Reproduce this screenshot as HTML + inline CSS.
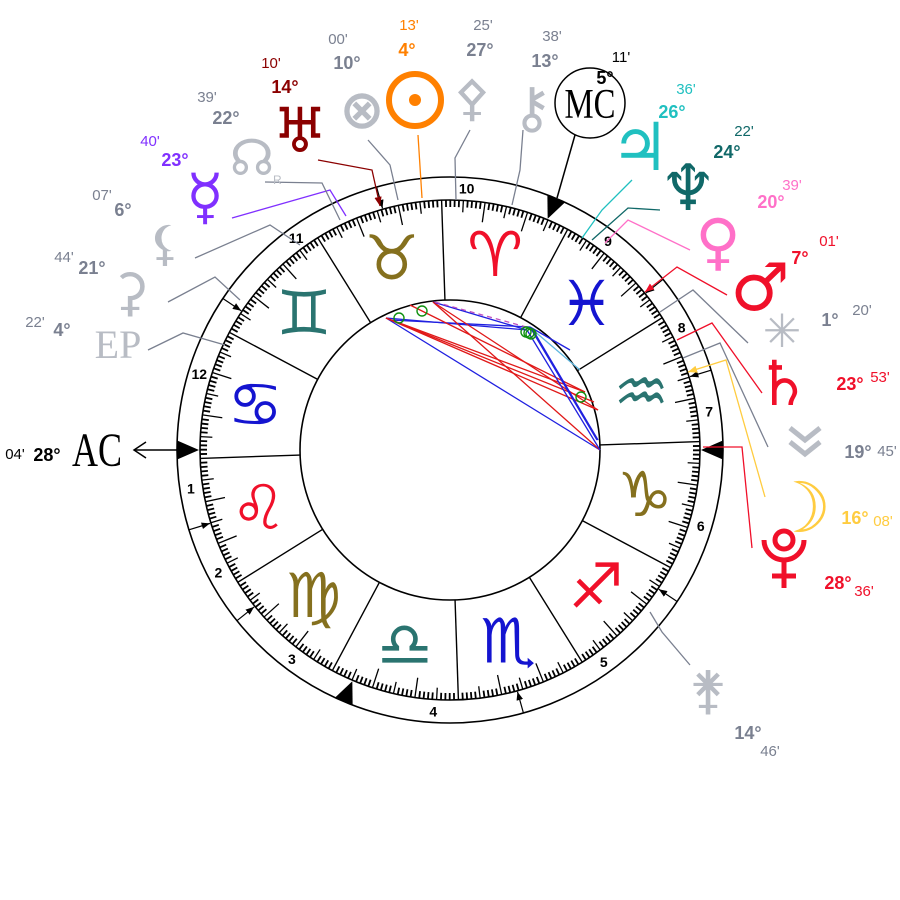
<!DOCTYPE html>
<html><head><meta charset="utf-8"><style>
body{margin:0;background:#fff;width:900px;height:900px;overflow:hidden}
svg{display:block}
</style></head><body>
<svg id="s" width="900" height="900" viewBox="0 0 900 900" xmlns="http://www.w3.org/2000/svg" font-family="DejaVu Sans, sans-serif">
<defs>
<marker id="ar" viewBox="0 0 10 10" refX="10" refY="5" markerWidth="7" markerHeight="7" orient="auto"><path d="M0,1 L10,5 L0,9 z" fill="context-stroke"/></marker>
<marker id="arb" viewBox="0 0 10 10" refX="10" refY="5" markerWidth="7" markerHeight="7" orient="auto"><path d="M0,1 L10,5 L0,9 z" fill="#000"/></marker>
</defs>
<circle cx="450" cy="450" r="273" fill="none" stroke="#000" stroke-width="1.6"/>
<circle cx="450" cy="450" r="250" fill="none" stroke="#000" stroke-width="1.6"/>
<circle cx="450" cy="450" r="150" fill="none" stroke="#000" stroke-width="1.6"/>
<g id="ticks"></g><g id="signs"></g><g id="houses"></g><g id="asp"></g><g id="pl"></g>
</svg>
<script>
var NS="http://www.w3.org/2000/svg",cx=450,cy=450,AC=118.07;
var SANS='font-family:"Liberation Sans",sans-serif',SERIF='font-family:"Liberation Serif",serif',DJ='font-family:"DejaVu Sans",sans-serif';
function th(L){return (180+L-AC)*Math.PI/180;}
function P(r,t){return [cx+r*Math.cos(t),cy-r*Math.sin(t)];}
function el(p,tag,a,txt){var e=document.createElementNS(NS,tag);for(var k in a)e.setAttribute(k,a[k]);if(txt!=null)e.textContent=txt;p.appendChild(e);return e;}
var T=document.getElementById('ticks');
for(var d=0;d<360;d++){var t=th(d);var len=d%10==0?20:(d%5==0?12:7);if(d%30==0)len=0;
 if(len){var a=P(250,t),b=P(250-len,t);el(T,'line',{x1:a[0],y1:a[1],x2:b[0],y2:b[1],stroke:'#000','stroke-width':d%5==0?1.3:1.8});}}
var S=document.getElementById('signs');
var gl=['♈','♉','♊','♋','♌','♍','♎','♏','♐','♑','♒','♓'];
var col=['#f0102a','#85701e','#2a7470','#1414d0'];
for(var i=0;i<12;i++){var t=th(i*30);var a=P(250,t),b=P(150,t);el(S,'line',{x1:a[0],y1:a[1],x2:b[0],y2:b[1],stroke:'#000','stroke-width':1.4});
 var m=P(200,th(i*30+15));el(S,'text',{x:m[0],y:m[1]+21,'font-size':62,'text-anchor':'middle',fill:col[i%4],style:DJ},gl[i]+'\uFE0E');}
var H=document.getElementById('houses');
var cusps=[180,197,218.7,247.1,285.6,326.3,0,17,38.7,67.1,105.6,146.3];
for(var i=0;i<12;i++){var t=cusps[i]*Math.PI/180;
 if(i%3==0){var b=P(251,t);var c=P(273,t+0.035),dd=P(273,t-0.035);
  el(H,'path',{d:'M'+b[0]+','+b[1]+'L'+c[0]+','+c[1]+'L'+dd[0]+','+dd[1]+'z',fill:'#000'});}
 else{var a=P(273,t),b=P(251,t);el(H,'line',{x1:a[0],y1:a[1],x2:b[0],y2:b[1],stroke:'#000','stroke-width':1.2,'marker-end':'url(#arb)'});}
 var next=cusps[(i+1)%12];var mid=cusps[i]+(((next-cusps[i])+360)%360)/2;var p=P(262,mid*Math.PI/180);
 el(H,'text',{x:p[0],y:p[1]+5,'font-size':14,'font-weight':'bold','text-anchor':'middle',style:SANS},String(i+1));}
el(H,'line',{x1:575,y1:135,x2:557,y2:198,stroke:'#000','stroke-width':1.5});
el(H,'line',{x1:134,y1:450,x2:177,y2:450,stroke:'#000','stroke-width':1.5});
el(H,'path',{d:'M146,442 L134,450 L146,458',fill:'none',stroke:'#000','stroke-width':1.5});
var A=document.getElementById('asp');
var asp=[[386,318,600,450,'#2020e0'],[386,318,527,330,'#2020e0'],[390,320,530,327,'#2020e0'],[386,318,585,392,'#e01818'],[386,318,594,402,'#e01818'],[386,318,598,410,'#e01818'],[410,305,585,392,'#e01818'],[433,302,598,410,'#e01818'],[433,302,527,330,'#2020e0'],[433,302,600,450,'#e01818'],[527,330,600,450,'#2020e0'],[530,327,597,440,'#2020e0'],[530,327,570,350,'#2020e0'],[533,330,580,370,'#60b8e0'],[533,330,598,440,'#2020e0']];
asp.forEach(function(a){el(A,'line',{x1:a[0],y1:a[1],x2:a[2],y2:a[3],stroke:a[4],'stroke-width':1.3});});
el(A,'line',{x1:435,y1:302,x2:530,y2:328,stroke:'#c050c0','stroke-width':1.3,'stroke-dasharray':'5,4'});
[[399,318],[422,311],[526,332],[529,333],[531,334],[581,397]].forEach(function(c){el(A,'circle',{cx:c[0],cy:c[1],r:5,fill:'none',stroke:'#109010','stroke-width':1.4});});
var G=document.getElementById('pl');
var gr='#7a8090',lg='#b8bcc4';
function lab(c,deg,dx,dy,mn,mx,my){var tc=c==lg?gr:c;
 el(G,'text',{x:dx,y:dy,'font-size':18,'font-weight':'bold','text-anchor':'middle',fill:tc,style:SANS},deg);
 el(G,'text',{x:mx,y:my,'font-size':15,'text-anchor':'middle',fill:tc,style:SANS},mn);}
function ln(line,c,arrow){var a={points:line,fill:'none',stroke:c==lg?gr:c,'stroke-width':1.3};if(arrow)a['marker-end']='url(#ar)';el(G,'polyline',a);}
function pl(g,gx,gy,fs,c,deg,dx,dy,mn,mx,my,line,arrow){
 if(g)el(G,'text',{x:gx,y:gy,'font-size':fs,'text-anchor':'middle',fill:c,'font-weight':'bold',style:DJ},g);
 lab(c,deg,dx,dy,mn,mx,my);if(line)ln(line,c,arrow);}
pl('♅',300,152,62,'#8b0000','14°',285,93,"10'",271,68,'318,160 372,170 380,206',1);
pl('⊗',362,128,54,lg,'10°',347,69,"00'",338,44,'368,140 390,165 398,200');
// sun drawn
el(G,'circle',{cx:415,cy:100,r:26,fill:'none',stroke:'#ff8000','stroke-width':6});
el(G,'circle',{cx:415,cy:100,r:6,fill:'#ff8000'});
lab('#ff8000','4°',407,56,"13'",409,30);ln('418,135 422,198','#ff8000');
pl('⚴',472,115,50,lg,'27°',480,56,"25'",483,30,'470,130 455,158 456,200');
pl('⚷',532,127,56,lg,'13°',545,67,"38'",552,41,'523,130 520,170 512,205');
el(G,'circle',{cx:590,cy:103,r:35,fill:'#fff',stroke:'#000','stroke-width':1.5});
el(G,'text',{x:590,y:118,'font-size':42,'text-anchor':'middle',style:SERIF,transform:'translate(590 0) scale(0.78 1) translate(-590 0)'},'MC');
el(G,'text',{x:605,y:84,'font-size':18,'font-weight':'bold','text-anchor':'middle',style:SANS},'5°');
el(G,'text',{x:621,y:62,'font-size':15,'text-anchor':'middle',style:SANS},"11'");
pl('♃',640,170,66,'#20c0c0','26°',672,118,"36'",686,94,'632,180 602,210 582,238');
pl('♆',688,210,64,'#106868','24°',727,158,"22'",744,136,'660,210 628,208 592,240');
pl('♀',718,263,62,'#ff70c8','20°',771,208,"39'",792,190,'690,250 628,220 605,243');
pl('♂',760,310,66,'#f0102a','7°',800,264,"01'",829,246,'727,295 677,267 645,292',1);
pl('✳',782,347,46,lg,'1°',830,326,"20'",862,315,'748,343 693,290 660,312');
pl('♄',783,405,62,'#f0102a','23°',850,390,"53'",880,382,'762,393 712,323 677,340');
// node chevrons drawn
el(G,'path',{d:'M790,428 L805,440 L820,428 M790,442 L805,454 L820,442',fill:'none',stroke:lg,'stroke-width':5});
lab(lg,'19°',858,458,"45'",887,456);ln('768,447 720,343 683,358',lg);
pl('☽',800,532,70,'#ffcc40','16°',855,524,"08'",883,526,'765,497 726,360 688,372',1);
// pluto drawn
el(G,'circle',{cx:784,cy:540,r:9,fill:'none',stroke:'#f0102a','stroke-width':5});
el(G,'path',{d:'M764,540 A20,20 0 0 0 804,540 M784,560 L784,588 M772,576 L796,576',fill:'none',stroke:'#f0102a','stroke-width':5});
lab('#f0102a','28°',838,589,"36'",864,596);ln('752,548 742,447 703,447','#f0102a');
pl('⚵',708,708,52,lg,'14°',748,739,"46'",770,756,'690,665 662,632 650,612');
pl('☿',205,218,62,'#8030ff','23°',175,166,"40'",150,146,'232,218 330,190 346,216');
pl('☊',252,175,50,lg,'22°',226,124,"39'",207,102,'265,182 322,183 340,220');
el(G,'text',{x:273,y:184,'font-size':12,fill:lg,style:SANS},'R');
pl('⚸',165,260,48,lg,'6°',123,216,"07'",102,200,'195,258 270,225 300,245');
pl('⚳',130,310,52,lg,'21°',92,274,"44'",64,262,'168,302 215,277 240,300');
el(G,'text',{x:118,y:358,'font-size':40,'text-anchor':'middle',fill:lg,style:SERIF},'EP');
lab(lg,'4°',62,336,"22'",35,327);ln('148,350 183,333 225,345',lg);
el(G,'text',{x:97,y:466,'font-size':48,'text-anchor':'middle',style:SERIF,transform:'translate(97 0) scale(0.75 1) translate(-97 0)'},'AC');
el(G,'text',{x:47,y:461,'font-size':18,'font-weight':'bold','text-anchor':'middle',style:SANS},'28°');
el(G,'text',{x:15,y:459,'font-size':15,'text-anchor':'middle',style:SANS},"04'");
</script>
</body></html>
